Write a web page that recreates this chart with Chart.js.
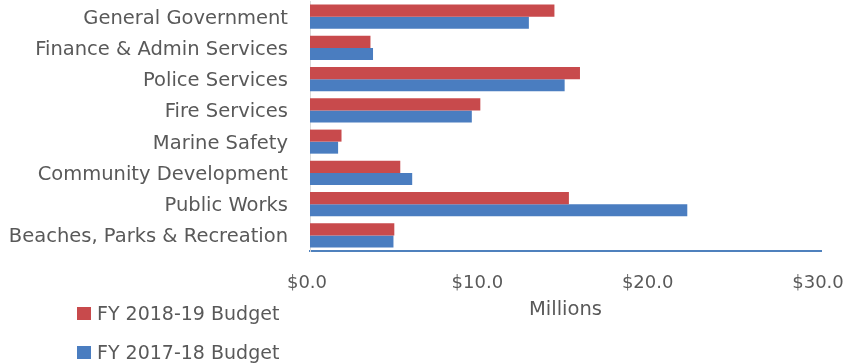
<!DOCTYPE html>
<html>
<head>
<meta charset="utf-8">
<script src="https://cdn.jsdelivr.net/npm/chart.js@4"></script>
<style>
    html, body { margin: 0; padding: 0; background: #fff; }
    #wrap { position: relative; width: 851px; height: 364px; }
    #legend { position: absolute; left: 77px; top: 300px; font: 19px "DejaVu Sans", sans-serif; color: #595959; }
    #legend div { display: flex; align-items: center; height: 26px; margin-bottom: 13px; }
    #legend span.box { width: 14px; height: 13px; margin-right: 6px; }
</style>
</head>
<body>
<div id="wrap">
    <canvas id="budget-chart" width="851" height="364"></canvas>
    <div id="legend"></div>
</div>
<script>
const departments = [
    'General Government',
    'Finance & Admin Services',
    'Police Services',
    'Fire Services',
    'Marine Safety',
    'Community Development',
    'Public Works',
    'Beaches, Parks & Recreation'
]

// $ millions
const budget201819 = [14.35, 3.55, 15.85, 10.0, 1.85, 5.3, 15.2, 4.95]
const budget201718 = [12.85, 3.7, 14.95, 9.5, 1.65, 6.0, 22.15, 4.9]

const seriesNames = ['FY 2018-19 Budget', 'FY 2017-18 Budget']
const seriesColors = ['#c84a4c', '#4a7dc0']

const axisMin = 0
const axisMax = 30
const axisStep = 10

const textColor = '#595959'
const fontFamily = '"DejaVu Sans", sans-serif'

const budgetChart = new Chart(document.getElementById('budget-chart'), {
    type: 'bar',
    data: {
        labels: departments,
        datasets: [
            { label: seriesNames[0], data: budget201819, backgroundColor: seriesColors[0] },
            { label: seriesNames[1], data: budget201718, backgroundColor: seriesColors[1] }
        ]
    },
    options: {
        indexAxis: 'y',
        responsive: false,
        animation: false,
        barPercentage: 1,
        categoryPercentage: 0.77,
        layout: { padding: { top: 1, right: 30, bottom: 42, left: 0 } },
        plugins: {
            legend: { display: false },
            tooltip: { enabled: false }
        },
        scales: {
            x: {
                min: axisMin,
                max: axisMax,
                grid: { display: false, drawTicks: false },
                border: { display: true, color: '#4f81bd', width: 2 },
                ticks: {
                    stepSize: axisStep,
                    padding: 22,
                    maxRotation: 0,
                    labelOffset: -3,
                    color: textColor,
                    font: { family: fontFamily, size: 18 },
                    callback: v => '$' + v.toFixed(1)
                },
                title: {
                    display: true,
                    text: 'Millions',
                    color: textColor,
                    font: { family: fontFamily, size: 19.5 },
                    padding: { top: 0, bottom: 0 }
                },
                afterFit: scale => {
                    scale.height = 71
                    scale.paddingLeft = 0
                    scale.paddingRight = 0
                }
            },
            y: {
                grid: { display: false, drawTicks: false },
                border: { display: true, color: '#d9d9d9', width: 1 },
                ticks: {
                    padding: 22,
                    labelOffset: 2,
                    color: textColor,
                    font: { family: fontFamily, size: 19.5 },
                    autoSkip: false
                },
                afterFit: scale => {
                    scale.width = 310
                    scale.paddingTop = 0
                    scale.paddingBottom = 0
                }
            }
        }
    }
});

// legend stacked under the axis labels
const legendEl = document.getElementById('legend')
budgetChart.data.datasets.forEach(ds => {
    const row = document.createElement('div')
    const box = document.createElement('span')
    box.className = 'box'
    box.style.background = ds.backgroundColor
    row.appendChild(box)
    row.appendChild(document.createTextNode(ds.label))
    legendEl.appendChild(row)
})
</script>
</body>
</html>
